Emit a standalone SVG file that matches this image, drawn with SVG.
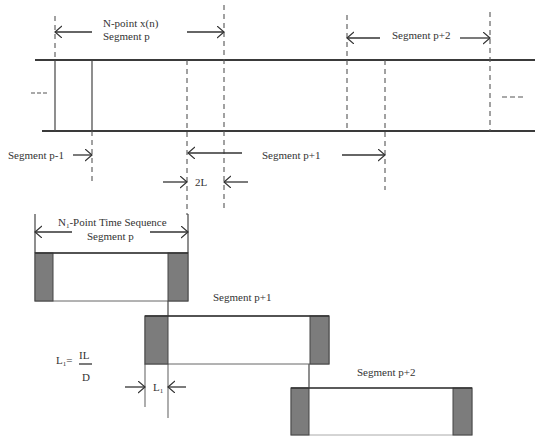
<svg xmlns="http://www.w3.org/2000/svg" width="535" height="436" viewBox="0 0 535 436">
<style>
text{font-family:"Liberation Serif",serif;font-size:11px;fill:#333}
.band{stroke:#3a3a3a;stroke-width:2;fill:none}
.solid{stroke:#444;stroke-width:1.2;fill:none}
.dash{stroke:#555;stroke-width:1.1;stroke-dasharray:5,4;fill:none}
.arr{stroke:#333;stroke-width:1.3;fill:none;marker-end:url(#ah)}
.gray{fill:#7c7c7c;stroke:#444;stroke-width:1}
.box{fill:#fff;stroke:#666;stroke-width:1}
.top{stroke:#333;stroke-width:1.6}
</style>
<defs>
<marker id="ah" markerUnits="userSpaceOnUse" markerWidth="12" markerHeight="14" refX="7" refY="6" orient="auto">
<path d="M0,0 L7,6 L0,12" fill="none" stroke="#333" stroke-width="1.2"/>
</marker>
</defs>
<rect width="535" height="436" fill="#fff"/>
<g id="connectors">
<line class="band" x1="35" y1="60" x2="535" y2="60"/>
<line class="band" x1="42" y1="131" x2="535" y2="131"/>
<line class="solid" x1="55" y1="60" x2="55" y2="131"/>
<line class="solid" x1="92" y1="60" x2="92" y2="131"/>
<line class="dash" x1="55" y1="16" x2="55" y2="60"/>
<line class="dash" x1="92" y1="131" x2="92" y2="183"/>
<line class="dash" x1="187" y1="60" x2="187" y2="215"/>
<line class="dash" x1="224" y1="5" x2="224" y2="210"/>
<line class="dash" x1="347" y1="15" x2="347" y2="131"/>
<line class="dash" x1="385" y1="60" x2="385" y2="190"/>
<line class="dash" x1="490" y1="12" x2="490" y2="131"/>
<line class="dash" x1="31" y1="93" x2="47" y2="93" style="stroke-dasharray:4,2"/>
<line class="dash" x1="502" y1="97" x2="524" y2="97" style="stroke-dasharray:5,3"/>
<line class="arr" x1="92" y1="32" x2="55" y2="32"/>
<line class="arr" x1="187" y1="32" x2="224" y2="32"/>
<line class="arr" x1="380" y1="38" x2="347" y2="38"/>
<line class="arr" x1="460" y1="38" x2="490" y2="38"/>
<line class="arr" x1="73" y1="155" x2="92" y2="155"/>
<line class="arr" x1="242" y1="153" x2="188" y2="153"/>
<line class="arr" x1="342" y1="155" x2="385" y2="155"/>
<line class="arr" x1="163" y1="182" x2="187" y2="182"/>
<line class="arr" x1="248" y1="182" x2="224" y2="182"/>
<line class="solid" x1="35" y1="214" x2="35" y2="253"/>
<line class="solid" x1="188" y1="214" x2="188" y2="253"/>
<line class="arr" x1="72" y1="232" x2="35" y2="232"/>
<line class="arr" x1="150" y1="232" x2="188" y2="232"/>
<line class="solid" x1="168" y1="301" x2="168" y2="316"/>
<line class="solid" x1="309" y1="364" x2="309" y2="388"/>
<line class="solid" x1="145" y1="364" x2="145" y2="407" style="stroke:#777"/>
<line class="solid" x1="168" y1="364" x2="168" y2="418" style="stroke:#777"/>
<line class="arr" x1="125" y1="387" x2="145" y2="387"/>
<line class="arr" x1="186" y1="387" x2="168" y2="387"/>
</g>
<g id="seg-p">
<rect class="box" x="35" y="253" width="153" height="48"/>
<rect class="gray" x="35" y="253" width="18" height="48"/>
<rect class="gray" x="168" y="253" width="20" height="48"/>
<line class="top" x1="35" y1="253" x2="188" y2="253"/>
</g>
<g id="seg-p1">
<rect class="box" x="145" y="316" width="184" height="48"/>
<rect class="gray" x="145" y="316" width="23" height="48"/>
<rect class="gray" x="310" y="316" width="19" height="48"/>
<line class="top" x1="145" y1="316" x2="329" y2="316"/>
</g>
<g id="seg-p2">
<rect class="box" x="291" y="388" width="181" height="47" style="stroke:#aaa"/>
<rect class="gray" x="291" y="388" width="18" height="47"/>
<rect class="gray" x="453" y="388" width="19" height="47"/>
<line class="top" x1="291" y1="388" x2="472" y2="388"/>
</g>
<g id="labels">
<text x="103" y="27">N-point x(n)</text>
<text x="103" y="40">Segment p</text>
<text x="392" y="39">Segment p+2</text>
<text x="8" y="159">Segment p-1</text>
<text x="262" y="159">Segment p+1</text>
<text x="195" y="186">2L</text>
<text x="58" y="226">N<tspan font-size="7" dy="2">1</tspan><tspan dy="-2">-Point Time Sequence</tspan></text>
<text x="87" y="240">Segment p</text>
<text x="213" y="301">Segment p+1</text>
<text x="357" y="376">Segment p+2</text>
<text x="153" y="391">L<tspan font-size="7" dy="2">1</tspan></text>
</g>
<g id="formula">
<text x="56" y="364">L<tspan font-size="7" dy="2">1</tspan><tspan dy="-2">=</tspan></text>
<text x="79" y="359">IL</text>
<line x1="79" y1="364" x2="92" y2="364" stroke="#333" stroke-width="1.3"/>
<text x="82" y="381">D</text>
</g>
</svg>
